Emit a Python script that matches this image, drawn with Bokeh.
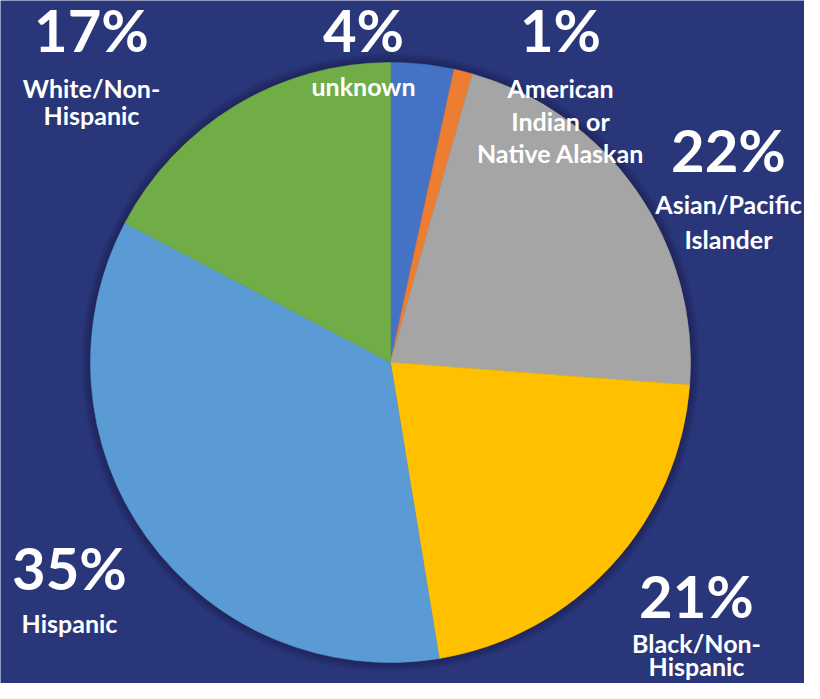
import math
from bokeh.plotting import figure
from bokeh.models import Range1d
from bokeh.core.properties import value
from bokeh.embed import file_html
from bokeh.resources import INLINE

# ---- data ----
categories = ["unknown", "American Indian or Native Alaskan", "Asian/Pacific Islander",
              "Black/Non-Hispanic", "Hispanic", "White/Non-Hispanic"]
shares = [3.4, 1.0, 21.8, 21.2, 35.3, 17.3]
pct_labels = ["4%", "1%", "22%", "21%", "35%", "17%"]
name_lines = [["unknown"], ["American", "Indian or", "Native Alaskan"],
              ["Asian/Pacific", "Islander"], ["Black/Non-", "Hispanic"],
              ["Hispanic"], ["White/Non-", "Hispanic"]]
colors = ["#4472C4", "#ED7D31", "#A5A5A5", "#FFC000", "#5B9BD5", "#70AD47"]

# ---- layout (page pixels, y down; visual baselines) ----
H = 699
BG = "#29377A"
CX, CY, R = 390, 362, 300
PCT_SIZE, NAME_SIZE = 58, 25
label_layout = [
    (363, 50, [95]),
    (560, 50, [97, 130, 162]),
    (728, 170, [213, 248]),
    (696, 616, [652, 675]),
    (69, 588, [632]),
    (91, 50, [97, 124]),
]

def Y(y):
    return H - y

p = figure(width=804, height=683, output_backend="svg", toolbar_location=None,
           x_range=Range1d(0, 804), y_range=Range1d(Y(683), Y(0)),
           min_border=0, background_fill_color=BG, border_fill_color=BG,
           outline_line_color=None)
p.axis.visible = False
p.grid.visible = False

# soft shadow around the pie
for k in range(1, 11):
    p.circle(x=[CX], y=[Y(CY)], radius=R + k, fill_color="black",
             fill_alpha=0.025, line_color=None)

total = sum(shares)
cum = 0.0
starts, ends = [], []
for s in shares:
    a0 = math.pi / 2 - 2 * math.pi * cum / total
    cum += s
    a1 = math.pi / 2 - 2 * math.pi * cum / total
    starts.append(a0)
    ends.append(a1)

p.wedge(x=[CX] * len(shares), y=[Y(CY)] * len(shares), radius=R,
        start_angle=starts, end_angle=ends, direction="clock",
        fill_color=colors, line_color=colors, line_width=0.6)

font = value("Lato")
# the SVG renderer draws "alphabetic" text ~0.37em lower, so compensate
pct_shift = 0.37 * PCT_SIZE
name_shift = 0.37 * NAME_SIZE
for (lx, pb, nbs), pct, lines in zip(label_layout, pct_labels, name_lines):
    p.text(x=[lx], y=[Y(pb - pct_shift)], text=[pct], text_font=font,
           text_font_style="bold", text_font_size=f"{PCT_SIZE}px", text_align="center",
           text_baseline="alphabetic", text_color="white")
    p.text(x=[lx] * len(lines), y=[Y(b - name_shift) for b in nbs], text=lines,
           text_font=font, text_font_style="bold", text_font_size=f"{NAME_SIZE}px",
           text_align="center", text_baseline="alphabetic", text_color="white")

open("out.html", "w").write(file_html(p, INLINE))
